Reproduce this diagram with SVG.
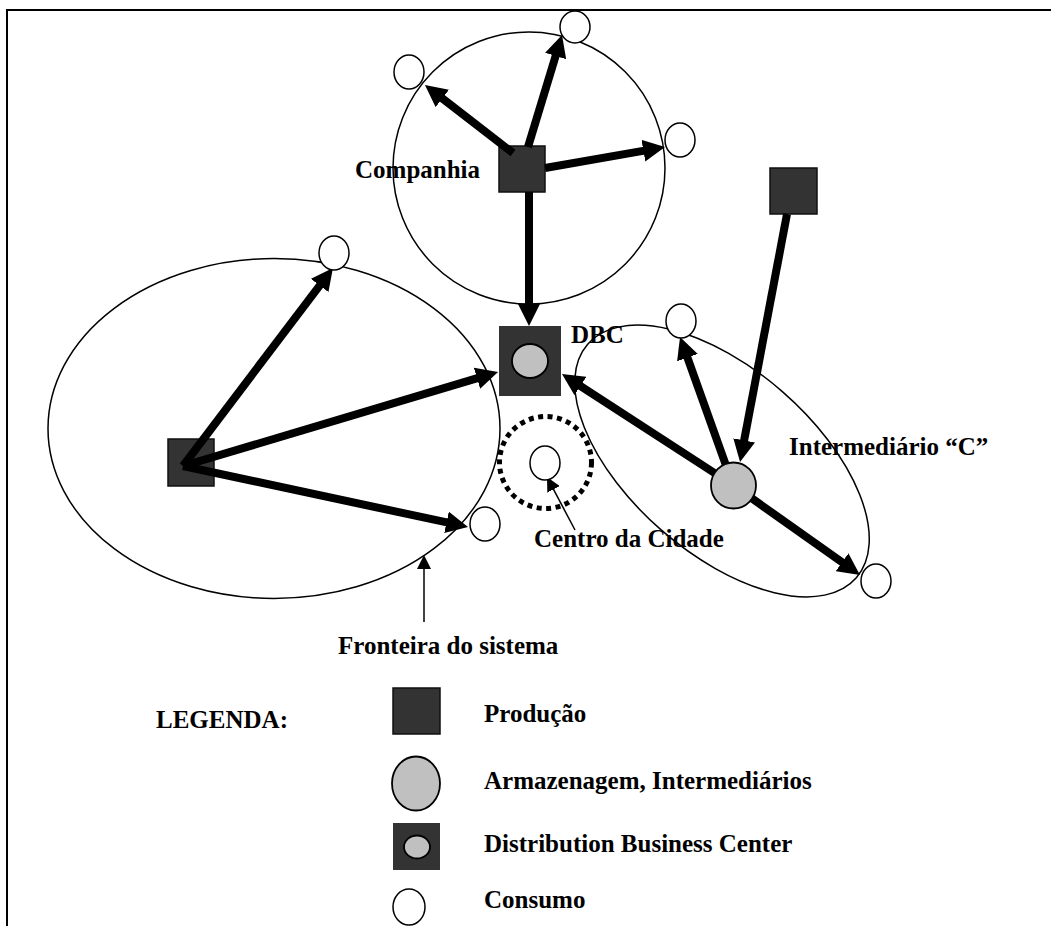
<svg xmlns="http://www.w3.org/2000/svg" width="1051" height="926" viewBox="0 0 1051 926">
<style>
.bd{fill:none;stroke:#000;stroke-width:1.5}
.prod{fill:#333;stroke:#111;stroke-width:1.5}
.stor{fill:#c0c0c0;stroke:#000;stroke-width:1.8}
.cons{fill:#fff;stroke:#000;stroke-width:1.5}
.flow{stroke:#000;stroke-width:8;fill:none;marker-end:url(#big)}
.thin{stroke:#000;stroke-width:1.5;fill:none;marker-end:url(#small)}
text{font-family:"Liberation Serif","Times New Roman",serif;font-weight:bold;font-size:25px;fill:#000}
</style>
<defs>
<marker id="big" viewBox="0 0 22 22" refX="4" refY="11" markerWidth="22" markerHeight="22" markerUnits="userSpaceOnUse" orient="auto">
<path d="M0,0 L22,11 L0,22 z" fill="#000"/>
</marker>
<marker id="small" viewBox="0 0 14 14" refX="2" refY="7" markerWidth="14" markerHeight="14" markerUnits="userSpaceOnUse" orient="auto">
<path d="M0,0 L14,7 L0,14 z" fill="#000"/>
</marker>
</defs>
<rect width="1051" height="926" fill="#fff"/>
<g id="frame" fill="none" stroke="#000" stroke-width="2">
<path d="M1051,10 H7 V926"/>
</g>
<g id="boundaries">
<circle class="bd" cx="529" cy="168" r="136"/>
<ellipse class="bd" cx="274" cy="428.5" rx="226" ry="170"/>
<ellipse class="bd" cx="722" cy="461" rx="178" ry="92" transform="rotate(41 722 461)"/>
<circle cx="545.5" cy="462.5" r="46" fill="none" stroke="#000" stroke-width="5" stroke-dasharray="5 4.5"/>
</g>
<g id="producao-companhia"><rect class="prod" x="499" y="146" width="46" height="46"/></g>
<g id="producao-esquerda"><rect class="prod" x="168" y="439" width="46" height="47"/></g>
<g id="producao-direita"><rect class="prod" x="770" y="168" width="47" height="46"/></g>
<g id="dbc">
<rect x="499" y="326" width="62" height="70" fill="#333"/>
<ellipse class="stor" cx="530" cy="361" rx="18" ry="17"/>
</g>
<g id="connectors">
<line class="flow" x1="513" y1="153" x2="439.2" y2="96"/>
<line class="flow" x1="528" y1="147" x2="556.8" y2="52.2"/>
<line class="flow" x1="545" y1="168" x2="647.3" y2="150.1"/>
<line class="flow" x1="529" y1="192" x2="529" y2="308"/>
<line class="flow" x1="183" y1="466" x2="322.1" y2="282.3"/>
<line class="flow" x1="183" y1="466" x2="480.8" y2="377.1"/>
<line class="flow" x1="183" y1="466" x2="450.4" y2="523.2"/>
<line class="flow" x1="787" y1="214" x2="743.4" y2="444.3"/>
<line class="flow" x1="733" y1="485" x2="686.1" y2="353.9"/>
<line class="flow" x1="733" y1="485" x2="577.1" y2="383.8"/>
<line class="flow" x1="733" y1="485" x2="845.3" y2="564.6"/>
<line class="thin" x1="424" y1="622" x2="424" y2="567"/>
<line class="thin" x1="575" y1="530" x2="552.6" y2="487.6"/>
</g>
<g id="intermediario-c"><ellipse class="stor" cx="733.5" cy="485.5" rx="22.5" ry="23"/></g>
<g id="consumo-1"><ellipse class="cons" cx="409" cy="72" rx="15" ry="17"/></g>
<g id="consumo-2"><ellipse class="cons" cx="575" cy="27" rx="15" ry="16"/></g>
<g id="consumo-3"><ellipse class="cons" cx="680" cy="140" rx="15" ry="17"/></g>
<g id="consumo-4"><ellipse class="cons" cx="334" cy="253" rx="15" ry="17"/></g>
<g id="consumo-5"><ellipse class="cons" cx="485" cy="524" rx="15" ry="17"/></g>
<g id="consumo-centro"><ellipse class="cons" cx="545" cy="463" rx="15" ry="17"/></g>
<g id="consumo-6"><ellipse class="cons" cx="681" cy="321" rx="15" ry="17"/></g>
<g id="consumo-7"><ellipse class="cons" cx="876" cy="581" rx="15" ry="17"/></g>
<g id="labels">
<text x="355" y="178">Companhia</text>
<text x="571" y="343">DBC</text>
<text x="789" y="455">Intermediário “C”</text>
<text x="534" y="547">Centro da Cidade</text>
<text x="338" y="654">Fronteira do sistema</text>
</g>
<g id="legend">
<text x="156" y="728">LEGENDA:</text>
<rect class="prod" x="393" y="688" width="47" height="46"/>
<text x="484" y="722">Produção</text>
<ellipse class="stor" cx="416" cy="783.5" rx="24" ry="27"/>
<text x="484" y="789">Armazenagem, Intermediários</text>
<rect x="393" y="823" width="47" height="47" fill="#333"/>
<ellipse class="stor" cx="417" cy="847" rx="13" ry="11.5"/>
<text x="484" y="852">Distribution Business Center</text>
<ellipse class="cons" cx="409" cy="907" rx="16" ry="18"/>
<text x="484" y="908">Consumo</text>
</g>
</svg>
